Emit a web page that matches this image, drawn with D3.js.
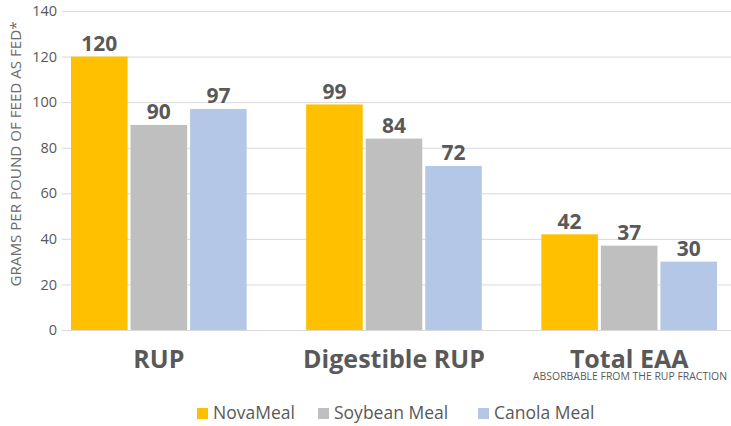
<!DOCTYPE html>
<html><head><meta charset="utf-8">
<script src="https://cdn.jsdelivr.net/npm/d3@7"></script>
<style>body{margin:0;background:#fff}svg{display:block}</style>
</head><body>
<svg id="chart" width="731" height="426"></svg>
<script>
const categories = ["RUP", "Digestible RUP", "Total EAA"];
const seriesNames = ["NovaMeal", "Soybean Meal", "Canola Meal"];
const novaMeal = [120, 99, 42];
const soybeanMeal = [90, 84, 37];
const canolaMeal = [97, 72, 30];
const yTicks = [0, 20, 40, 60, 80, 100, 120, 140];
const colors = ["#FFC000", "#BFBFBF", "#B4C7E7"];
const yTitle = "GRAMS PER POUND OF FEED AS FED*";
const subNote = "ABSORBABLE FROM THE RUP FRACTION";

const values = [novaMeal, soybeanMeal, canolaMeal];
const svg = d3.select("#chart");
const y = d3.scaleLinear().domain([0, 140]).range([330, 11]);
const x0 = d3.scaleBand().domain(categories).range([71, 717]).paddingInner(0.253).paddingOuter(0);
const x1 = d3.scaleBand().domain(seriesNames).range([0, x0.bandwidth()]).paddingInner(0.05).paddingOuter(0);

// gridlines
svg.append("g").selectAll("line").data(yTicks).join("line")
  .attr("x1", 62).attr("x2", 731)
  .attr("y1", d => y(d) + 0.5).attr("y2", d => y(d) + 0.5)
  .attr("stroke", "#d9d9d9").attr("stroke-width", 1);

// y axis labels
const yAxis = d3.axisLeft(y).tickValues(yTicks).tickSize(0).tickPadding(0);
const ga = svg.append("g").attr("transform", "translate(57,0)").call(yAxis);
ga.select(".domain").remove();
ga.selectAll("text").attr("font-family", "'Open Sans', sans-serif").attr("font-size", 14.5).attr("fill", "#595959");

// y title
svg.append("text").attr("transform", "translate(21,154) rotate(-90)")
  .attr("text-anchor", "middle")
  .attr("font-family", "'Open Sans', sans-serif")
  .attr("font-size", 15).attr("fill", "#6b6b6b")
  .attr("textLength", 265).attr("lengthAdjust", "spacingAndGlyphs").text(yTitle);

// bars
const groups = svg.append("g").selectAll("g").data(categories).join("g")
  .attr("transform", d => `translate(${x0(d)},0)`);
groups.selectAll("rect").data((c, i) => seriesNames.map((s, j) => ({s, v: values[j][i], j})))
  .join("rect")
  .attr("x", d => x1(d.s)).attr("width", x1.bandwidth())
  .attr("y", d => y(d.v)).attr("height", d => y(0) - y(d.v))
  .attr("fill", d => colors[d.j]);
groups.selectAll("text.val").data((c, i) => seriesNames.map((s, j) => ({s, v: values[j][i]})))
  .join("text").attr("class", "val")
  .attr("x", d => x1(d.s) + x1.bandwidth() / 2).attr("y", d => y(d.v) - 5.5)
  .attr("text-anchor", "middle")
  .attr("font-family", "'Open Sans', sans-serif").attr("font-weight", "bold")
  .attr("font-size", 21).attr("fill", "#595959").text(d => d.v);

// category labels
svg.append("g").selectAll("text").data(categories).join("text")
  .attr("x", d => x0(d) + x0.bandwidth() / 2).attr("y", 368)
  .attr("text-anchor", "middle")
  .attr("font-family", "'Open Sans', sans-serif").attr("font-weight", "bold")
  .attr("font-size", 25).attr("fill", "#595959").text(d => d);
svg.append("text")
  .attr("x", 533).attr("y", 380)
  .attr("font-family", "'Open Sans', sans-serif")
  .attr("font-size", 10.5).attr("fill", "#595959")
  .attr("textLength", 194).attr("lengthAdjust", "spacingAndGlyphs").text(subNote);

// legend
const legendX = [197, 318, 478];
const lg = svg.append("g").selectAll("g").data(seriesNames).join("g")
  .attr("transform", (d, i) => `translate(${legendX[i]},408)`);
lg.append("rect").attr("width", 11).attr("height", 11).attr("fill", (d, i) => colors[i]);
lg.append("text").attr("x", 16).attr("y", 10.5)
  .attr("font-family", "'Open Sans', sans-serif").attr("font-size", 17.5)
  .attr("fill", "#595959").text(d => d);
</script>
</body></html>
